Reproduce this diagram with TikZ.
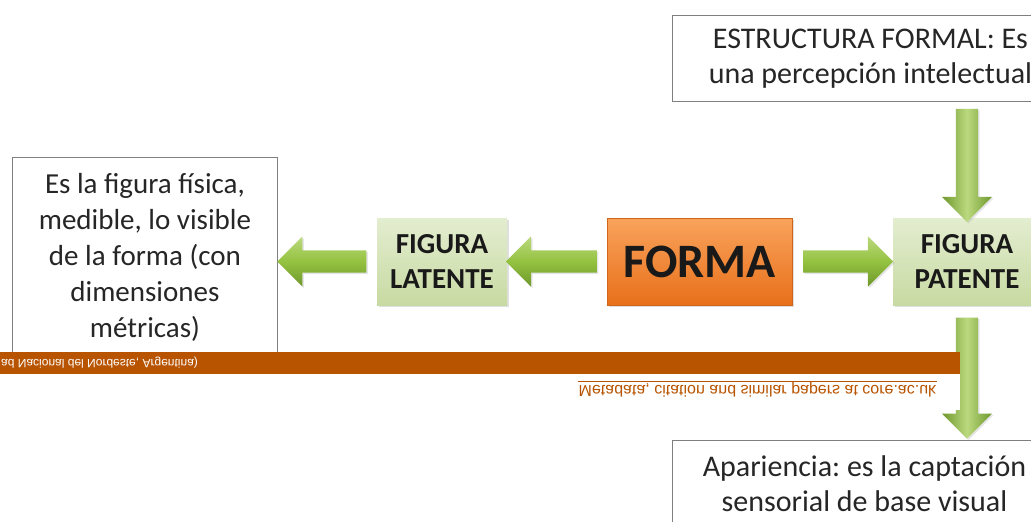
\documentclass[tikz,border=0pt]{standalone}
\usepackage{fontspec}
\setmainfont{Carlito}
\newfontfamily\arialfont{Liberation Sans}
\usetikzlibrary{shapes.arrows,shadows,calc}
\definecolor{boxline}{HTML}{7F7F7F}
\definecolor{txt}{HTML}{262626}
\definecolor{gtop}{HTML}{E3EDD0}
\definecolor{gbot}{HTML}{C8DAA2}
\definecolor{otop}{HTML}{F9A35C}
\definecolor{obot}{HTML}{E8701A}
\definecolor{atop}{HTML}{BBD97E}
\definecolor{amid}{HTML}{94C240}
\definecolor{abot}{HTML}{6E982C}
\definecolor{bandc}{HTML}{B85400}
\frenchspacing
\begin{document}
\begin{tikzpicture}[x=1pt,y=-1pt,
  wbox/.style={draw=boxline, line width=0.9pt, fill=white, align=center, inner sep=0pt, text=txt},
  gbox/.style={top color=gtop, bottom color=gbot, draw=none, align=center, inner sep=0pt,
    font=\bfseries\fontsize{29}{35}\selectfont, text=black!90,
    drop shadow={opacity=0.25, shadow xshift=2pt, shadow yshift=-2pt}},
  obox/.style={top color=otop, bottom color=obot, draw=obot!90!black, line width=0.5pt, inner sep=0pt,
    font=\bfseries\fontsize{48}{50}\selectfont, text=black!90,
    drop shadow={opacity=0.25, shadow xshift=2pt, shadow yshift=-2pt}},
  blk/.style={single arrow, inner sep=0pt, single arrow head extend=14pt,
    single arrow tip angle=90, draw=none,
    drop shadow={opacity=0.2, shadow xshift=1.5pt, shadow yshift=-1.5pt}},
  harrow/.style={blk, top color=atop, bottom color=abot, middle color=amid},
  varrow/.style={blk, left color=abot, right color=abot, middle color=atop}
]
\useasboundingbox (0,0) rectangle (1031,522);
\clip (0,0) rectangle (1031,522);
\fill[white] (0,0) rectangle (1031,522);

% boxes
\node[wbox, minimum width=265pt, minimum height=200pt, anchor=north west,
  font=\fontsize{29}{36}\selectfont] (def) at (12,157)
  {Es la figura física,\\medible, lo visible\\de la forma (con\\dimensiones\\métricas)};
\node[gbox, minimum width=130pt, minimum height=87pt] (latente) at (442,261.5) {FIGURA\\LATENTE};
\node[obox, minimum width=185pt, minimum height=87pt] (forma) at (699.5,261.5) {FORMA};
\node[gbox, minimum width=148pt, minimum height=87pt] (patente) at (967,261.5) {FIGURA\\PATENTE};
\node[wbox, minimum width=396pt, minimum height=86pt, anchor=north west,
  font=\fontsize{30}{35}\selectfont] (estr) at (672,15)
  {ESTRUCTURA FORMAL: Es\\una percepción intelectual};
\node[wbox, minimum width=384pt, minimum height=86pt, anchor=north west,
  font=\fontsize{30}{35}\selectfont] (apar) at (672,440)
  {Apariencia: es la captación\\sensorial de base visual};

% block arrows
\node[harrow, shape border rotate=180, minimum height=89pt] (a1)
  at ($(def.east|-latente.west)!0.5!(latente.west)$) {\rule{0pt}{22pt}};
\node[harrow, shape border rotate=180, minimum height=91pt] (a2)
  at ($(forma.west)!0.5!(latente.east)$) {\rule{0pt}{22pt}};
\node[harrow, minimum height=90pt] (a3)
  at ($(forma.east)!0.5!(patente.west)$) {\rule{0pt}{22pt}};
\node[varrow, shape border rotate=270, minimum height=113pt] (v1)
  at ($(patente.north)!0.5!(patente.north|-estr.south)$) {\rule{22pt}{0pt}};
\node[varrow, shape border rotate=270, minimum height=121pt] (v2)
  at ($(patente.south)!0.5!(patente.south|-apar.north)$) {\rule{22pt}{0pt}};

% overlaid band
\fill[bandc] (0,352) rectangle (960,374);
\fill[white] (0,374) rectangle (960,410);
\node[yscale=-1, anchor=west, inner sep=0pt, text=white,
  font=\arialfont\fontsize{12}{13}\selectfont] (bandtxt) at (1,363)
  {ad Nacional del Nordeste, Argentina)};
\node[yscale=-1, inner sep=1pt, text=bandc,
  font=\arialfont\fontsize{16}{17}\selectfont] (meta) at (757.5,390)
  {Metadata, citation and similar papers at core.ac.uk};
\draw[bandc, line width=1pt] (meta.south west) -- (meta.south east);
\end{tikzpicture}
\end{document}
